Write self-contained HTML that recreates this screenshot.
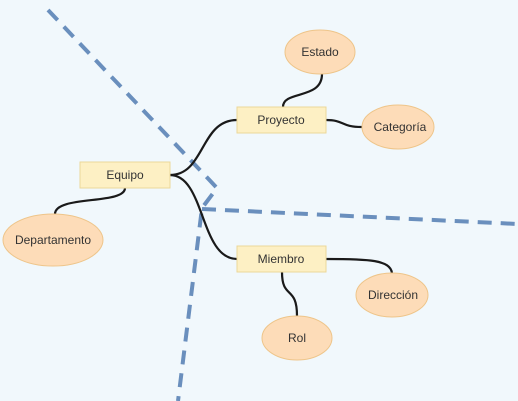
<!DOCTYPE html>
<html><head><meta charset="utf-8"><style>
html,body{margin:0;padding:0;background:#f1f8fc;}
svg{display:block}
text{font-family:"Liberation Sans",sans-serif;font-size:12px;fill:#333;text-anchor:middle;dominant-baseline:central}
</style></head><body>
<svg width="518" height="401" viewBox="0 0 518 401">
<rect width="518" height="401" fill="#f1f8fc"/>
<g fill="none" stroke="#6a8fbd" stroke-width="4" stroke-dasharray="14,9">
<path d="M48,10 L217,188 L202,208 L178,401"/>
<path d="M202,209 L518,224"/>
</g>
<g fill="none" stroke="#1a1a1a" stroke-width="2.2">
<path d="M170,175 C205,175 200,120 237,120"/>
<path d="M170,175 C205,175 200,259 237,259"/>
<path d="M125,188 C125,205 55,195 55,214"/>
<path d="M283,107 C283,90 322,100 322,74"/>
<path d="M326,120 C345,120 340,127 362,127"/>
<path d="M326,259 C370,259 390,260 392,273"/>
<path d="M282,272 C282,300 297,285 297,316"/>
</g>
<g fill="#fdf0c4" stroke="#ecd79a" stroke-width="1">
<rect x="80" y="162" width="90" height="26"/>
<rect x="237" y="107" width="89" height="26"/>
<rect x="237" y="246" width="89" height="26"/>
</g>
<g fill="#fddcb8" stroke="#eec58a" stroke-width="1">
<ellipse cx="53" cy="240" rx="50" ry="26"/>
<ellipse cx="320" cy="52" rx="35" ry="22"/>
<ellipse cx="398" cy="127" rx="36" ry="22"/>
<ellipse cx="392" cy="295" rx="36" ry="22"/>
<ellipse cx="297" cy="338" rx="35" ry="22"/>
</g>
<text x="125" y="175">Equipo</text>
<text x="281" y="120">Proyecto</text>
<text x="281" y="259">Miembro</text>
<text x="53" y="240">Departamento</text>
<text x="320" y="52">Estado</text>
<text x="400" y="127">Categoría</text>
<text x="393" y="295">Dirección</text>
<text x="297" y="338">Rol</text>
</svg>
</body></html>
